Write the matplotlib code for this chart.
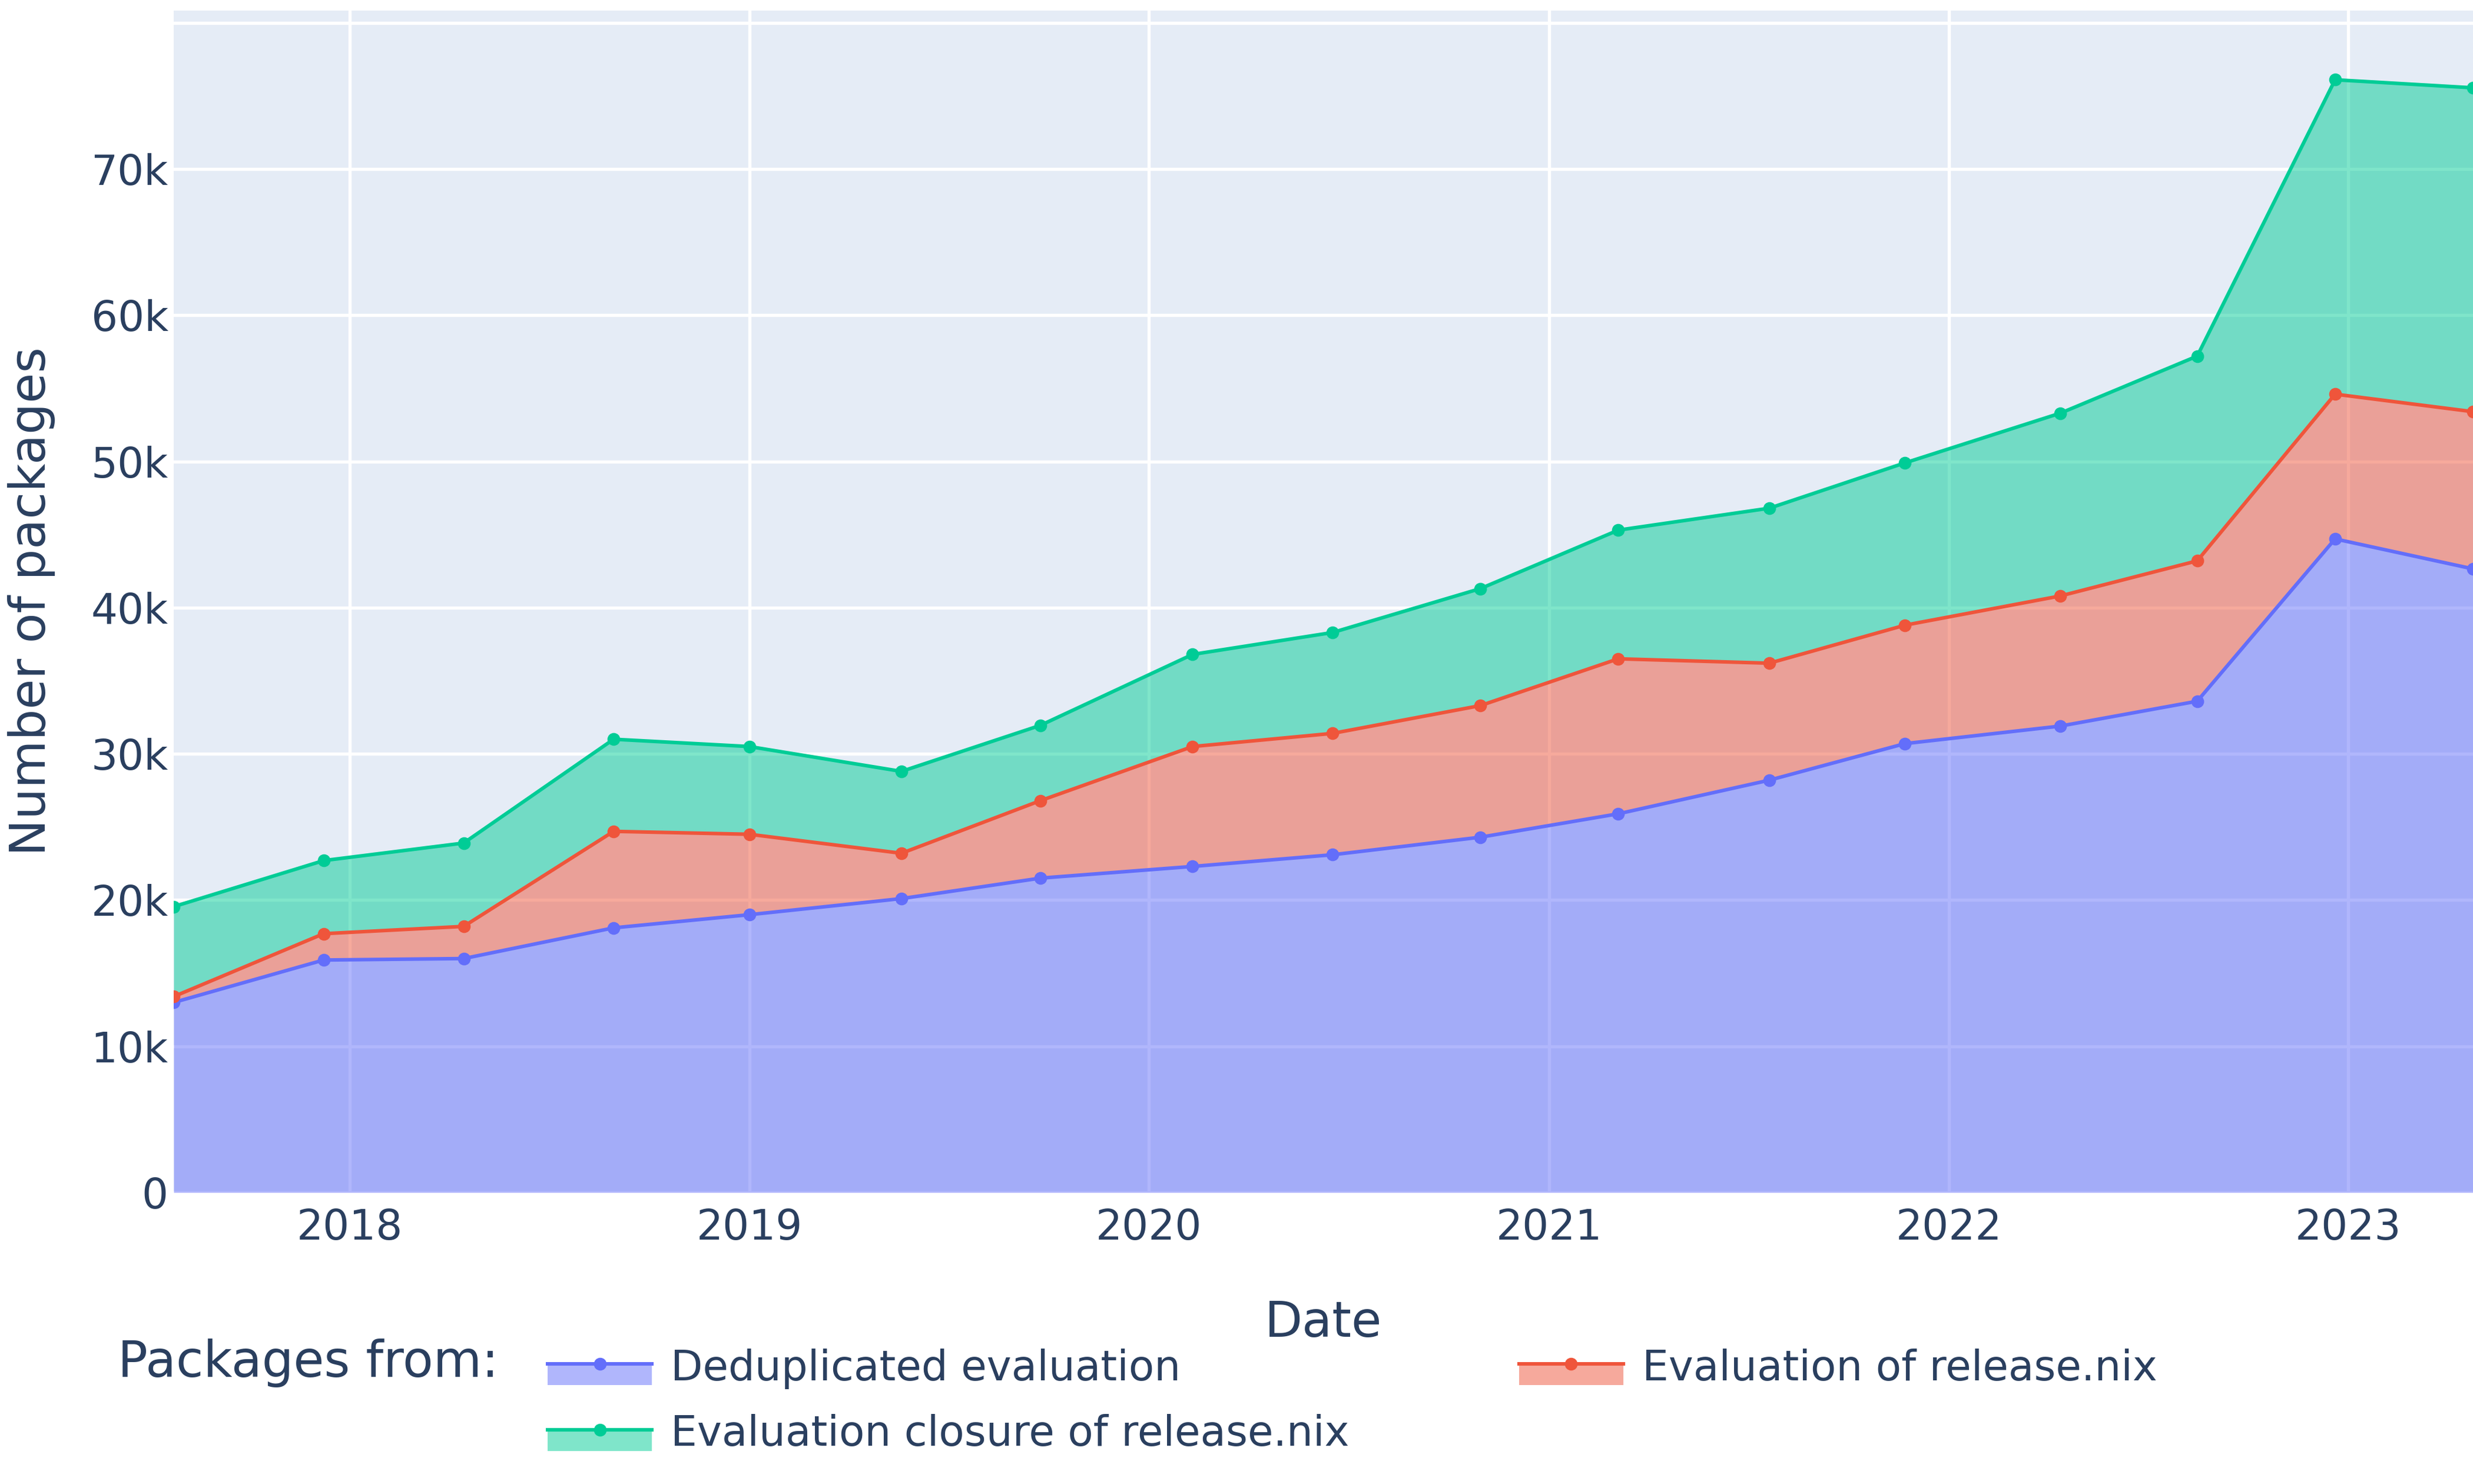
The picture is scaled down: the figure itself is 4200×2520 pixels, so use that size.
import matplotlib
matplotlib.use("Agg")
import matplotlib.pyplot as plt
import matplotlib.dates as mdates
import pandas as pd
from matplotlib.legend_handler import HandlerBase
from matplotlib.patches import Rectangle
from matplotlib.lines import Line2D
from matplotlib.ticker import FixedLocator, FuncFormatter

# ========== 数据 ==========
DATES = [
    "2017-07-24", "2017-12-08", "2018-04-15", "2018-08-30", "2019-01-01",
    "2019-05-20", "2019-09-24", "2020-02-10", "2020-06-17", "2020-10-30",
    "2021-03-05", "2021-07-21", "2021-11-22", "2022-04-13", "2022-08-16",
    "2022-12-20", "2023-04-25",
]
DEDUP = [13000, 15900, 16000, 18100, 19000, 20100, 21500, 22300, 23100,
         24300, 25900, 28200, 30700, 31900, 33600, 44700, 42650]
RELEASE = [13400, 17700, 18200, 24700, 24500, 23200, 26800, 30500, 31400,
           33300, 36500, 36200, 38800, 40800, 43200, 54600, 53400]
CLOSURE = [19550, 22700, 23900, 31000, 30500, 28800, 31950, 36800, 38300,
           41300, 45300, 46800, 49900, 53300, 57200, 76100, 75550]

LABELS = ["Deduplicated evaluation", "Evaluation of release.nix",
          "Evaluation closure of release.nix"]
COLORS = ["#636EFA", "#EF553B", "#00CC96"]
Y_TICKS = [0, 10000, 20000, 30000, 40000, 50000, 60000, 70000, 80000]

TEXT_COLOR = "#2a3f5f"
BG_COLOR = "#E5ECF6"
W, H = 4200, 2520

plt.rcParams["font.family"] = ["DejaVu Sans"]


class AreaLineHandler(HandlerBase):
    """legend 图例：上方是线+点，下方是半透明填充块"""
    def create_artists(self, legend, orig_handle, xdescent, ydescent,
                       width, height, fontsize, trans):
        color = orig_handle.get_color()
        x0 = -xdescent
        top = 0.395 * fontsize
        bottom = -0.113 * fontsize
        rect = Rectangle((x0, bottom), width, top - bottom, facecolor=color,
                         alpha=0.5, edgecolor="none", transform=trans)
        line = Line2D([x0, x0 + width], [top, top], color=color,
                      lw=orig_handle.get_linewidth(), transform=trans)
        dot = Line2D([x0 + width / 2], [top], marker="o", ls="none",
                     ms=orig_handle.get_markersize(), color=color,
                     transform=trans)
        return [rect, line, dot]


def main():
    dates = pd.to_datetime(DATES)
    series = [DEDUP, RELEASE, CLOSURE]

    fig = plt.figure(figsize=(W / 300, H / 300), dpi=300)
    left, right, top, bottom = 295, 4200, 18, 2028
    ax = fig.add_axes([left / W, 1 - bottom / H, (right - left) / W,
                       (bottom - top) / H])
    ax.set_facecolor(BG_COLOR)

    # 填充区域
    lower = [0] * len(DATES)
    for vals, color in zip(series, COLORS):
        ax.fill_between(dates, lower, vals, color=color, alpha=0.5, lw=0,
                        zorder=2)
        lower = vals

    handles = []
    for vals, color, label in zip(series, COLORS, LABELS):
        ln, = ax.plot(dates, vals, color=color, lw=1.45, marker="o", ms=4.2,
                      label=label, zorder=3)
        handles.append(ln)

    # 坐标轴
    ax.set_xlim(dates[0], dates[-1])
    ax.set_ylim(-120, 80830)
    ax.yaxis.set_major_locator(FixedLocator(Y_TICKS))
    ax.yaxis.set_major_formatter(FuncFormatter(
        lambda v, p: "" if v >= 80000 else ("0" if v == 0 else f"{int(v / 1000)}k")))
    ax.xaxis.set_major_locator(mdates.YearLocator())
    ax.xaxis.set_major_formatter(mdates.DateFormatter("%Y"))

    ax.grid(True, color="white", lw=1.3, zorder=0)
    ax.set_axisbelow(True)
    for s in ax.spines.values():
        s.set_visible(False)
    ax.tick_params(axis="both", length=0, labelsize=17, labelcolor=TEXT_COLOR)
    ax.tick_params(axis="x", pad=5.5)
    ax.tick_params(axis="y", pad=2.2)

    # 轴标题
    fig.text(54 / W, 1 - 1021 / H, "Number of packages", rotation=90,
             ha="center", va="center", fontsize=20, color=TEXT_COLOR)
    fig.text((left + right) / 2 / W, 1 - 2270 / H, "Date", ha="center",
             va="baseline", fontsize=20, color=TEXT_COLOR)

    # 图例
    fig.text(200 / W, 1 - 2338 / H, "Packages from:", ha="left",
             va="baseline", fontsize=20.3, color=TEXT_COLOR)
    handles_ordered = [handles[0], handles[2], handles[1]]
    labels_ordered = [LABELS[0], LABELS[2], LABELS[1]]
    leg = fig.legend(handles_ordered, labels_ordered, ncol=2,
                     loc="upper left", bbox_to_anchor=(930 / W, 1 - 2290 / H),
                     frameon=False, borderpad=0, borderaxespad=0,
                     handlelength=2.5, handleheight=0.7, handletextpad=0.45,
                     columnspacing=4.07, labelspacing=0.6, fontsize=17,
                     handler_map={Line2D: AreaLineHandler()})
    for t in leg.get_texts():
        t.set_color(TEXT_COLOR)

    fig.savefig("out.png", dpi=300, facecolor="white")
    plt.close(fig)


if __name__ == "__main__":
    main()
